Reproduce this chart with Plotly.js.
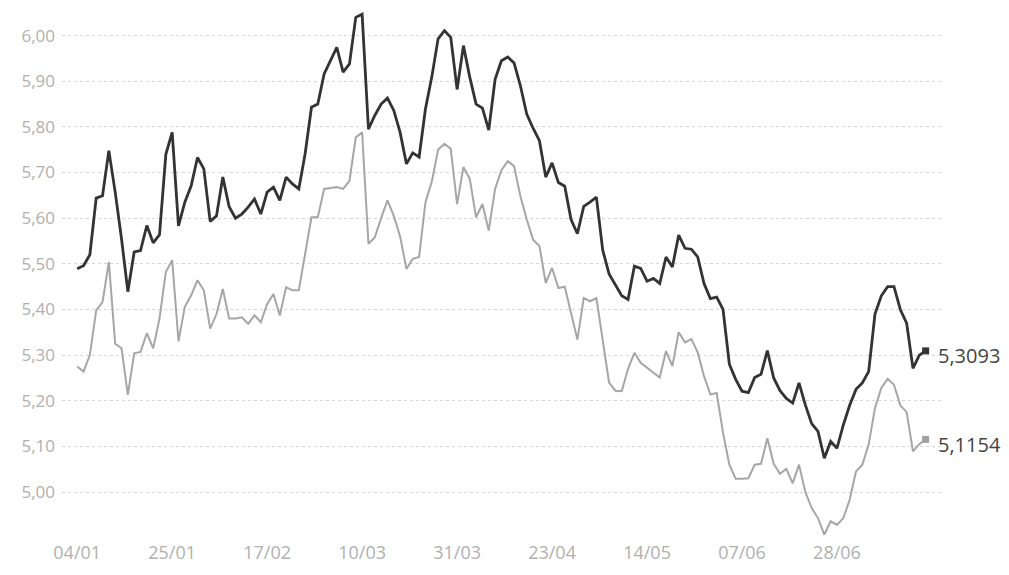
<!DOCTYPE html>
<html>
<head>
<meta charset="utf-8">
<script src="https://cdn.plot.ly/plotly-3.0.1.min.js"></script>
<style>html,body{margin:0;padding:0;background:#fff}#chart{width:1009px;height:575px}</style>
</head>
<body>
<div id="chart"></div>
<script>
// Business-day index (0 = 04/01) and tick labels every 15 sessions
const tickIndex = [0, 15, 30, 45, 60, 75, 90, 105, 120];
const tickLabels = ["04/01", "25/01", "17/02", "10/03", "31/03", "23/04", "14/05", "07/06", "28/06"];

// Dark series (upper)
const seriesDark = [
  5.489, 5.496, 5.520, 5.644, 5.649, 5.748, 5.657, 5.555, 5.439, 5.526,
  5.529, 5.584, 5.546, 5.564, 5.740, 5.788, 5.583, 5.635, 5.671, 5.733,
  5.708, 5.593, 5.605, 5.690, 5.625, 5.600, 5.609, 5.624, 5.642, 5.609,
  5.657, 5.668, 5.639, 5.690, 5.675, 5.664, 5.741, 5.843, 5.850, 5.916,
  5.945, 5.974, 5.920, 5.938, 6.040, 6.047, 5.795, 5.825, 5.850, 5.863,
  5.836, 5.788, 5.719, 5.743, 5.734, 5.839, 5.909, 5.993, 6.011, 5.996,
  5.882, 5.978, 5.909, 5.850, 5.841, 5.793, 5.904, 5.945, 5.953, 5.940,
  5.890, 5.828, 5.797, 5.770, 5.690, 5.721, 5.678, 5.670, 5.597, 5.566,
  5.626, 5.635, 5.646, 5.530, 5.478, 5.455, 5.430, 5.422, 5.495, 5.490,
  5.462, 5.468, 5.457, 5.515, 5.493, 5.563, 5.534, 5.532, 5.515, 5.457,
  5.424, 5.427, 5.400, 5.280, 5.247, 5.221, 5.218, 5.251, 5.258, 5.310,
  5.250, 5.222, 5.205, 5.195, 5.239, 5.191, 5.150, 5.133, 5.074, 5.111,
  5.096, 5.147, 5.190, 5.225, 5.239, 5.264, 5.390, 5.430, 5.450, 5.450,
  5.400, 5.370, 5.271, 5.300, 5.3093
];

// Light series (lower)
const seriesLight = [
  5.275, 5.264, 5.300, 5.398, 5.416, 5.504, 5.325, 5.315, 5.213, 5.304,
  5.307, 5.348, 5.315, 5.380, 5.482, 5.508, 5.330, 5.406, 5.431, 5.464,
  5.442, 5.358, 5.390, 5.445, 5.380, 5.380, 5.383, 5.369, 5.387, 5.372,
  5.412, 5.434, 5.387, 5.449, 5.442, 5.442, 5.522, 5.602, 5.602, 5.664,
  5.666, 5.668, 5.664, 5.682, 5.777, 5.788, 5.544, 5.558, 5.600, 5.639,
  5.605, 5.560, 5.489, 5.511, 5.515, 5.635, 5.680, 5.750, 5.763, 5.752,
  5.631, 5.712, 5.686, 5.602, 5.631, 5.573, 5.664, 5.705, 5.725, 5.714,
  5.648, 5.597, 5.553, 5.539, 5.458, 5.491, 5.447, 5.450, 5.392, 5.334,
  5.425, 5.418, 5.425, 5.330, 5.240, 5.222, 5.221, 5.270, 5.305, 5.283,
  5.272, 5.261, 5.251, 5.309, 5.276, 5.350, 5.328, 5.335, 5.306, 5.254,
  5.214, 5.217, 5.130, 5.060, 5.029, 5.029, 5.030, 5.060, 5.062, 5.118,
  5.062, 5.040, 5.051, 5.019, 5.060, 5.000, 4.965, 4.943, 4.907, 4.936,
  4.928, 4.943, 4.983, 5.045, 5.060, 5.104, 5.184, 5.228, 5.248, 5.235,
  5.190, 5.175, 5.089, 5.105, 5.1154
];

const yTicks = [5.0, 5.1, 5.2, 5.3, 5.4, 5.5, 5.6, 5.7, 5.8, 5.9, 6.0];

const idx = seriesDark.map((_, i) => i);
const last = idx.length - 1;
const fmt4 = v => v.toFixed(4).replace('.', ',');

const traces = [
  {x: idx, y: seriesLight, type: 'scatter', mode: 'lines',
   line: {color: '#a6a6a6', width: 2}, hoverinfo: 'skip'},
  {x: idx, y: seriesDark, type: 'scatter', mode: 'lines',
   line: {color: '#333333', width: 2.8}, hoverinfo: 'skip'},
  {x: [idx[last]], y: [seriesLight[last]], type: 'scatter', mode: 'markers',
   marker: {color: '#a0a0a0', size: 7, symbol: 'square'}, hoverinfo: 'skip'},
  {x: [idx[last]], y: [seriesDark[last]], type: 'scatter', mode: 'markers',
   marker: {color: '#333333', size: 7, symbol: 'square'}, hoverinfo: 'skip'}
];

const layout = {
  width: 1009, height: 575,
  margin: {l: 62, r: 65, t: 5, b: 35},
  paper_bgcolor: '#ffffff', plot_bgcolor: '#ffffff',
  showlegend: false,
  separators: ',.',
  font: {family: '"Open Sans", Lato, sans-serif', color: '#b0b0b0', size: 16},
  xaxis: {
    range: [-2.4, 136.9],
    tickvals: tickIndex, ticktext: tickLabels,
    showgrid: false, zeroline: false, showline: false,
    ticks: '', ticklen: 0,
    tickfont: {size: 18, color: '#b0b0b0'}
  },
  yaxis: {
    range: [4.895, 6.067],
    tickvals: yTicks, tickformat: '.2f',
    showgrid: true, gridcolor: '#d6d6d6', griddash: 'dot', gridwidth: 1,
    zeroline: false, showline: false, ticks: '', ticklen: 0,
    ticklabelstandoff: 6,
    tickfont: {size: 17, color: '#b0b0b0'}
  },
  annotations: [
    {x: idx[last], y: seriesDark[last], xref: 'x', yref: 'y',
     text: fmt4(seriesDark[last]), showarrow: false, xanchor: 'left', yanchor: 'middle',
     xshift: 10, yshift: -5, font: {size: 20, color: '#444444'}},
    {x: idx[last], y: seriesLight[last], xref: 'x', yref: 'y',
     text: fmt4(seriesLight[last]), showarrow: false, xanchor: 'left', yanchor: 'middle',
     xshift: 10, yshift: -5, font: {size: 20, color: '#444444'}}
  ]
};

Plotly.newPlot('chart', traces, layout, {staticPlot: true, displayModeBar: false});
</script>
</body>
</html>
